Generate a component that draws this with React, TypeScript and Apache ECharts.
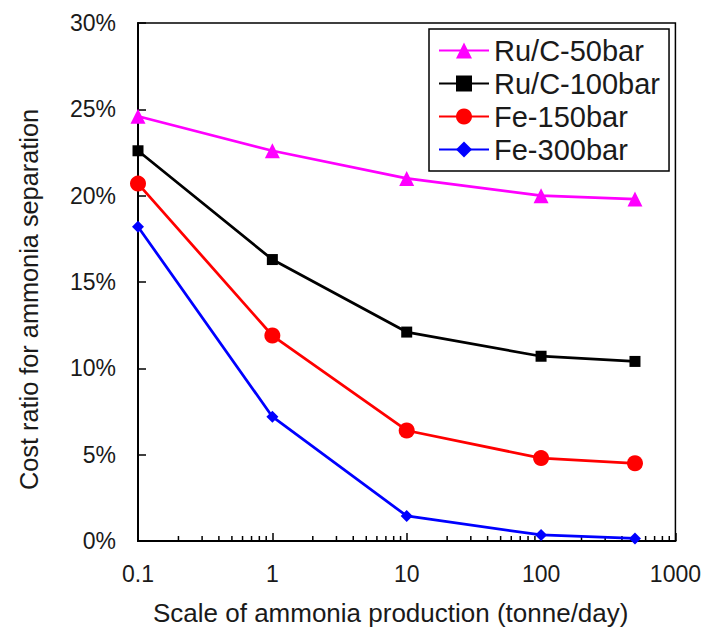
import React, { useEffect, useRef } from "react";
import * as echarts from "echarts";

const scales = [0.1, 1, 10, 100, 500];
const ruc50 = [24.6, 22.6, 21.0, 20.0, 19.8];
const ruc100 = [22.6, 16.3, 12.1, 10.7, 10.4];
const fe150 = [20.7, 11.9, 6.4, 4.8, 4.5];
const fe300 = [18.2, 7.2, 1.45, 0.35, 0.15];
const xTickLabels = ["0.1", "1", "10", "100", "1000"];
const minorTicks = [
  0.2, 0.3, 0.4, 0.5, 0.6, 0.7, 0.8, 0.9,
  2, 3, 4, 5, 6, 7, 8, 9,
  20, 30, 40, 50, 60, 70, 80, 90,
  200, 300, 400, 500, 600, 700, 800, 900,
];

const FONT = "'Liberation Sans', Arial, sans-serif";
const TXT = "#1a1a1a";

export default function App() {
  const ref = useRef<HTMLDivElement>(null);
  useEffect(() => {
    if (!ref.current) return;
    const chart = echarts.init(ref.current, null, { renderer: "svg" });
    const pair = (ys: number[]) => scales.map((x, i) => [x, ys[i]]);
    chart.setOption({
      animation: false,
      textStyle: { fontFamily: FONT },
      grid: {
        left: 126,
        right: 22,
        top: 15,
        bottom: 79,
        show: true,
        borderColor: "#000",
        borderWidth: 1.5,
      },
      legend: {
        data: ["Ru/C-50bar", "Ru/C-100bar", "Fe-150bar", "Fe-300bar"],
        orient: "vertical",
        left: 421,
        top: 21,
        borderColor: "#000",
        borderWidth: 1.5,
        padding: [7, 9, 7, 9],
        itemWidth: 50,
        itemHeight: 20,
        itemGap: 4,
        textStyle: { fontSize: 29, color: TXT, fontFamily: FONT },
      },
      xAxis: {
        type: "log",
        logBase: 10,
        min: 0.1,
        max: 1000,
        name: "Scale of ammonia production (tonne/day)",
        nameLocation: "middle",
        nameGap: 59,
        nameTextStyle: { fontSize: 26, color: TXT, fontFamily: FONT, padding: [0, 32, 0, 0] },
        axisLine: { lineStyle: { color: "#000", width: 2 } },
        axisTick: { inside: true, length: 8, lineStyle: { color: "#000", width: 1.5 } },
        axisLabel: {
          fontSize: 23,
          color: TXT,
          margin: 21,
          fontFamily: FONT,
          formatter: (v: number) => xTickLabels[Math.round(Math.log10(v)) + 1] ?? String(v),
        },
        splitLine: { show: false },
      },
      yAxis: {
        type: "value",
        min: 0,
        max: 30,
        interval: 5,
        name: "Cost ratio for ammonia separation",
        nameLocation: "middle",
        nameGap: 97,
        nameTextStyle: { fontSize: 25.3, color: TXT, fontFamily: FONT, padding: [0, 35, 0, 0] },
        axisLine: { show: true, lineStyle: { color: "#000", width: 2 } },
        axisTick: { show: true, inside: true, length: 8, lineStyle: { color: "#000", width: 1.5 } },
        axisLabel: { fontSize: 23, color: TXT, margin: 22, fontFamily: FONT, formatter: "{value}%" },
        splitLine: { show: false },
      },
      series: [
        {
          name: "Ru/C-50bar",
          type: "line",
          data: pair(ruc50),
          symbol: "triangle",
          symbolSize: 15,
          color: "#FF00FF",
          lineStyle: { width: 2.75, color: "#FF00FF" },
          z: 5,
        },
        {
          name: "Ru/C-100bar",
          type: "line",
          data: pair(ruc100),
          symbol: "rect",
          symbolSize: 11,
          color: "#000000",
          lineStyle: { width: 2.75, color: "#000000" },
          z: 5,
        },
        {
          name: "Fe-150bar",
          type: "line",
          data: pair(fe150),
          symbol: "circle",
          symbolSize: 16,
          color: "#FF0000",
          lineStyle: { width: 2.75, color: "#FF0000" },
          z: 5,
        },
        {
          name: "Fe-300bar",
          type: "line",
          data: pair(fe300),
          symbol: "diamond",
          symbolSize: 12,
          color: "#0000FF",
          lineStyle: { width: 2.75, color: "#0000FF" },
          z: 5,
        },
        {
          type: "custom",
          silent: true,
          z: 3,
          data: minorTicks.map((x) => [x, 0]),
          renderItem: (_params: any, api: any) => {
            const p = api.coord([api.value(0), 0]);
            return {
              type: "line",
              shape: { x1: p[0], y1: p[1], x2: p[0], y2: p[1] - 5 },
              style: { stroke: "#000", lineWidth: 1.5 },
            };
          },
        },
      ],
    });
    return () => chart.dispose();
  }, []);
  return <div ref={ref} style={{ width: 696, height: 623 }} />;
}
